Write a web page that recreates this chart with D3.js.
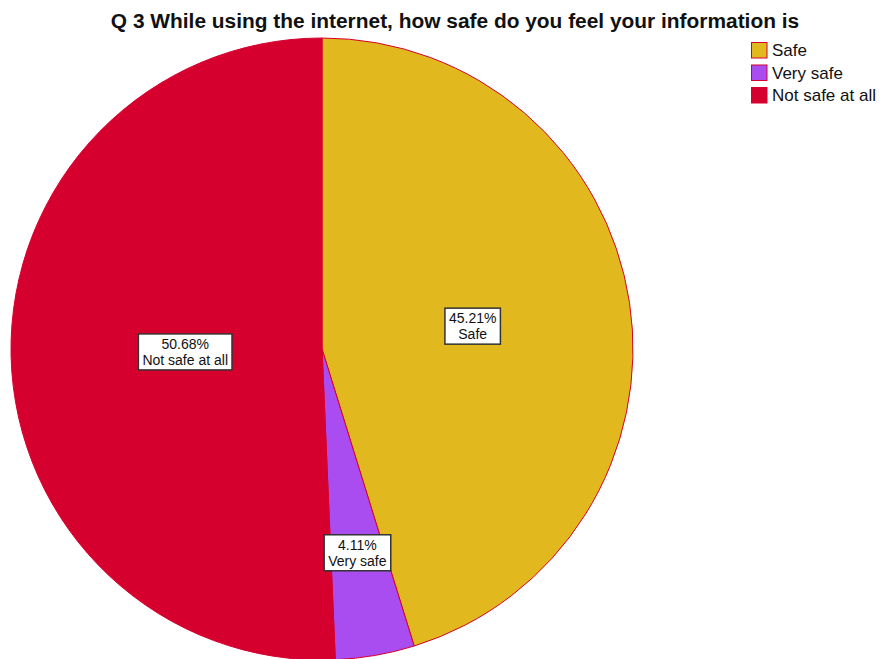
<!DOCTYPE html>
<html>
<head>
<meta charset="utf-8">
<script src="https://cdn.jsdelivr.net/npm/d3@7"></script>
<style>
  body { margin: 0; background: #fff; }
  svg { display: block; font-family: Arial, "Liberation Sans", sans-serif; }
</style>
</head>
<body>
<svg id="chart" width="881" height="659"></svg>
<script>
// Survey responses, Q3
const categories = ["Safe", "Very safe", "Not safe at all"];
const percents = [45.21, 4.11, 50.68];
const colors = ["#e1b91e", "#a94cf0", "#d6002f"];

const svg = d3.select("#chart");
const cx = 322, cy = 349, radius = 311;

svg.append("text")
  .attr("x", 455).attr("y", 28)
  .attr("text-anchor", "middle")
  .attr("font-size", 20.9).attr("font-weight", "bold")
  .attr("fill", "#111")
  .text("Q 3 While using the internet, how safe do you feel your information is");

const data = categories.map((c, i) => ({ name: c, value: percents[i], color: colors[i] }));

const pie = d3.pie().value(d => d.value).sort(null);
const arcs = pie(data);
const arc = d3.arc().innerRadius(0).outerRadius(radius);

const g = svg.append("g").attr("transform", `translate(${cx},${cy})`);

g.selectAll("path.slice")
  .data(arcs)
  .join("path")
  .attr("class", "slice")
  .attr("d", arc)
  .attr("fill", d => d.data.color)
  .attr("stroke", "#d6002f")
  .attr("stroke-width", 1);

// Label anchor radius (fraction of the pie radius) per slice
const labelRadius = [0.49, 0.665, 0.44];
const labelPos = d => {
  const r = radius * labelRadius[d.index];
  return d3.arc().innerRadius(r).outerRadius(r).centroid(d);
};

const labels = g.selectAll("g.label")
  .data(arcs)
  .join("g")
  .attr("class", "label")
  .attr("transform", d => `translate(${labelPos(d)})`);

labels.each(function(d) {
  const sel = d3.select(this);
  const t = sel.append("text")
    .attr("text-anchor", "middle")
    .attr("font-size", 14)
    .attr("fill", "#111");
  t.append("tspan").attr("x", 0).attr("y", -3).text(d3.format(".2f")(d.data.value) + "%");
  t.append("tspan").attr("x", 0).attr("y", 13).text(d.data.name);
  const bb = t.node().getBBox();
  sel.insert("rect", "text")
    .attr("x", bb.x - 4).attr("y", bb.y - 2)
    .attr("width", bb.width + 8).attr("height", bb.height + 4)
    .attr("fill", "#fff")
    .attr("stroke", "#333")
    .attr("stroke-width", 1.5);
});

// Legend
const legend = svg.append("g").attr("transform", "translate(751,42)");
const items = legend.selectAll("g")
  .data(data)
  .join("g")
  .attr("transform", (d, i) => `translate(0,${i * 22.5})`);
items.append("rect")
  .attr("x", 0.5).attr("y", 0.5)
  .attr("width", 15.5).attr("height", 15.5)
  .attr("fill", d => d.color)
  .attr("stroke", "#d6002f").attr("stroke-width", 1);
items.append("text")
  .attr("x", 21).attr("y", 14)
  .attr("font-size", 17)
  .attr("fill", "#111")
  .text(d => d.name);
</script>
</body>
</html>
